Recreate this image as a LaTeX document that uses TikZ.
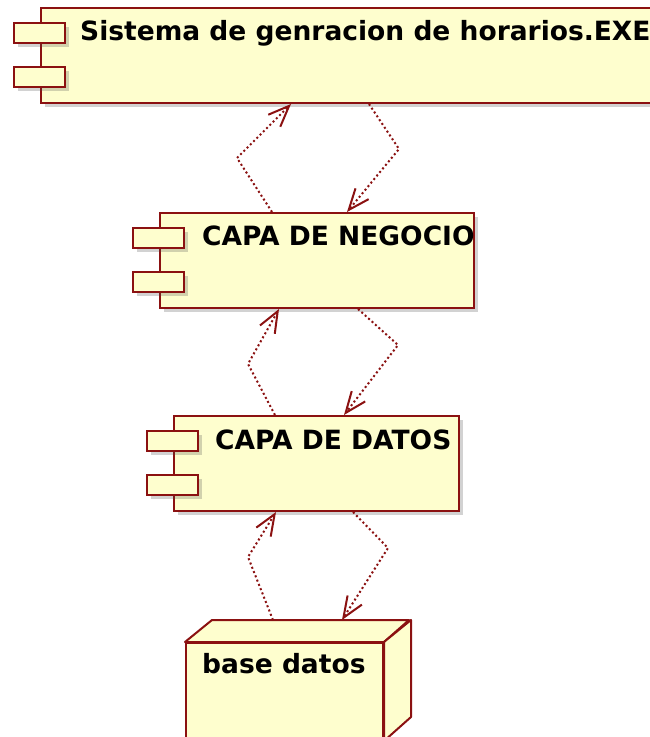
\documentclass[tikz,border=0pt]{standalone}
\usepackage{fontspec}
\setmainfont{DejaVu Sans}
\usetikzlibrary{calc,shadows,arrows.meta}
\definecolor{umlline}{HTML}{8B1111}
\definecolor{umlfill}{HTML}{FEFECE}
\tikzstyle{box} = [draw=umlline, fill=umlfill, line width=2pt,
                   drop shadow={shadow xshift=4pt, shadow yshift=-4pt,
                                opacity=.25, fill=black!70}]
\tikzstyle{face} = [draw=umlline, fill=umlfill, line width=2pt, line join=round]
\tikzstyle{comp} = [box, rectangle, minimum height=95pt, inner sep=0pt]
\tikzstyle{port} = [box, rectangle, minimum width=51pt, minimum height=20pt, inner sep=0pt]
\tikzstyle{title} = [anchor=base west, inner sep=0pt,
                     font=\fontsize{26.5}{32}\selectfont\bfseries]
\tikzstyle{dep} = [umlline, line width=2pt, dash pattern=on 2pt off 2.6pt,
                   -{Straight Barb[length=21pt,width=17pt]}]

\begin{document}
\begin{tikzpicture}[x=1pt, y=1pt]

% background
\fill[white] (0,0) rectangle (650,-737);
\useasboundingbox (0,0) rectangle (650,-737);

% add nodes
\node[comp, minimum width=625pt, anchor=north west] (exe)     at (40,-7)   {};
\node[comp, minimum width=314pt, anchor=north west] (negocio) at (159,-212) {};
\node[comp, minimum width=285pt, anchor=north west] (datos)   at (173,-415) {};

\foreach \c in {exe, negocio, datos} {
  \node[port] (\c-a) at ($(\c.north west)+(-1,-26)$) {};
  \node[port] (\c-b) at ($(\c.north west)+(-1,-70)$) {};
}

\node[title] (exe-t)     at ($(exe.north west)+(40,-33)$)     {Sistema de genracion de horarios.EXE};
\node[title] (negocio-t) at ($(negocio.north west)+(43,-33)$) {CAPA DE NEGOCIO};
\node[title] (datos-t)   at ($(datos.north west)+(42,-34)$)   {CAPA DE DATOS};

% database node (3d box)
\node[box, minimum width=197pt, minimum height=97pt, inner sep=0pt,
      anchor=north west] (db) at (185,-642) {};
\draw[face] (db.north west) -- ++(27,22) -- ++(197,0) -- (db.north east) -- cycle;
\draw[face] (db.north east) -- ++(27,22) -- ++(0,-97) -- (db.south east) -- cycle;
\node[title] (db-t) at ($(db.north west)+(17,-31)$) {base datos};

% bend points
\coordinate (up1)   at (237,-158);
\coordinate (down1) at (399,-149);
\coordinate (up2)   at (248,-364);
\coordinate (down2) at (398,-345);
\coordinate (up3)   at (248,-557);
\coordinate (down3) at (388,-548);

% add connections
\draw[dep] ($(negocio.north west)+(113,0)$) -- (up1) -- ($(exe.south west)+(251,0)$);
\draw[dep] ($(exe.south west)+(329,0)$) -- (down1) -- ($(negocio.north west)+(188,0)$);
\draw[dep] ($(datos.north west)+(102,0)$) -- (up2) -- ($(negocio.south west)+(120,0)$);
\draw[dep] ($(negocio.south west)+(199,0)$) -- (down2) -- ($(datos.north west)+(171,0)$);
\draw[dep] ($(db.north west)+(88,22)$) -- (up3) -- ($(datos.south west)+(103,0)$);
\draw[dep] ($(datos.south west)+(180,0)$) -- (down3) -- ($(db.north west)+(157,22)$);

\end{tikzpicture}
\end{document}
